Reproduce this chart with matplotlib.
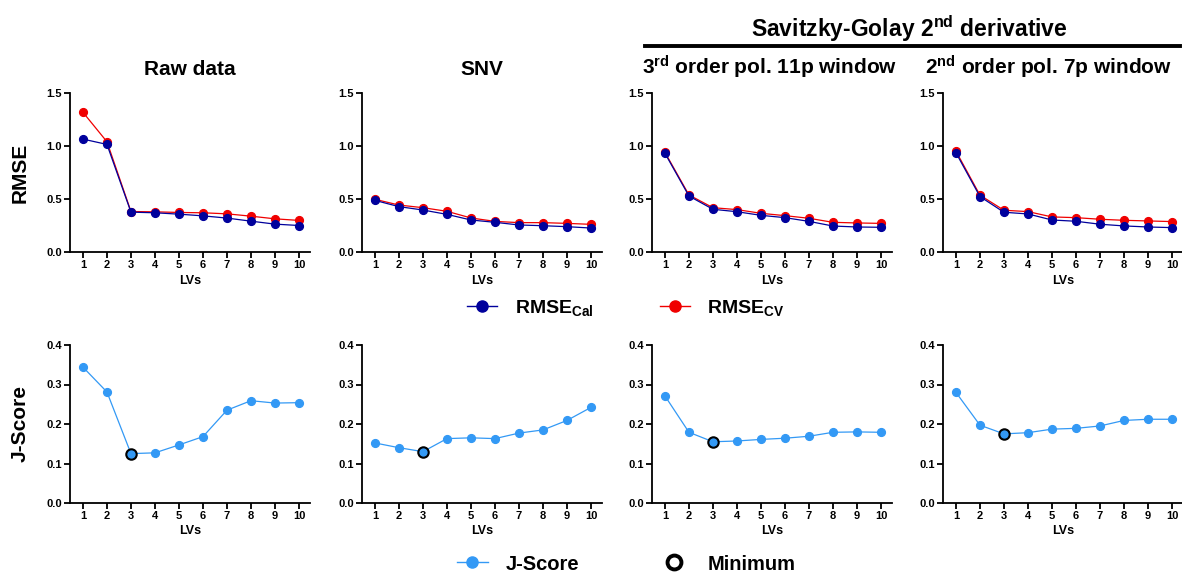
import matplotlib
matplotlib.use("Agg")
import matplotlib.pyplot as plt
from matplotlib.lines import Line2D

plt.rcParams['font.family'] = ['Liberation Sans', 'DejaVu Sans']
plt.rcParams['mathtext.fontset'] = 'custom'
plt.rcParams['mathtext.rm'] = 'Liberation Sans:bold'
plt.rcParams['mathtext.bf'] = 'Liberation Sans:bold'
plt.rcParams['mathtext.it'] = 'Liberation Sans:bold'

lvs = [1, 2, 3, 4, 5, 6, 7, 8, 9, 10]

titles = ["Raw data", "SNV",
          r"3$^{\mathbf{rd}}$ order pol. 11p window",
          r"2$^{\mathbf{nd}}$ order pol. 7p window"]

rmse_cal = [
    [1.065, 1.015, 0.376, 0.370, 0.357, 0.341, 0.320, 0.291, 0.263, 0.250],
    [0.487, 0.428, 0.396, 0.355, 0.302, 0.280, 0.255, 0.248, 0.239, 0.226],
    [0.931, 0.528, 0.403, 0.380, 0.346, 0.324, 0.289, 0.245, 0.236, 0.233],
    [0.936, 0.523, 0.375, 0.359, 0.302, 0.290, 0.262, 0.246, 0.236, 0.230],
]
rmse_cv = [
    [1.318, 1.040, 0.382, 0.379, 0.373, 0.370, 0.360, 0.338, 0.313, 0.298],
    [0.497, 0.443, 0.418, 0.384, 0.321, 0.289, 0.277, 0.277, 0.270, 0.261],
    [0.940, 0.538, 0.418, 0.400, 0.365, 0.343, 0.318, 0.280, 0.274, 0.270],
    [0.951, 0.536, 0.394, 0.381, 0.331, 0.324, 0.309, 0.299, 0.293, 0.287],
]
jscore = [
    [0.344, 0.281, 0.125, 0.127, 0.147, 0.168, 0.235, 0.259, 0.253, 0.254],
    [0.152, 0.140, 0.130, 0.163, 0.165, 0.163, 0.177, 0.185, 0.209, 0.242],
    [0.271, 0.179, 0.155, 0.157, 0.161, 0.164, 0.169, 0.179, 0.180, 0.179],
    [0.280, 0.197, 0.175, 0.178, 0.187, 0.189, 0.195, 0.209, 0.212, 0.212],
]
min_lv = [3, 3, 3, 3]

C_CAL = '#00009c'
C_CV = '#f00000'
C_J = '#3399f5'

W, H = 1182, 572
fig = plt.figure(figsize=(W / 100, H / 100), dpi=100)

lefts = [70, 362, 652, 943]
title_x = [0.5, 0.5, 0.49, 0.44]
axw = 240

def style(ax, ymax, yticks, labels):
    ax.set_xlim(0.46, 10.46)
    ax.set_ylim(0, ymax)
    ax.set_xticks(lvs)
    ax.set_xticklabels([str(v) for v in lvs], fontsize=8, fontweight='bold')
    ax.set_yticks(yticks)
    ax.set_yticklabels(labels, fontsize=8, fontweight='bold')
    for s in ['top', 'right']:
        ax.spines[s].set_visible(False)
    for s in ['left', 'bottom']:
        ax.spines[s].set_linewidth(1.3)
    ax.tick_params(width=1.3, length=4, pad=2)
    ax.set_xlabel('LVs', fontsize=9, fontweight='bold', labelpad=3)
    ax.patch.set_alpha(0)

for i in range(4):
    # top row
    ax = fig.add_axes([lefts[i] / W, 1 - 252 / H, axw / W, (252 - 93) / H])
    ax.plot(lvs, rmse_cv[i], color=C_CV, lw=0.9, marker='o', ms=5.6, zorder=2)
    ax.plot(lvs, rmse_cal[i], color=C_CAL, lw=0.9, marker='o', ms=5.6, zorder=3)
    style(ax, 1.5, [0, 0.5, 1.0, 1.5], ['0.0', '0.5', '1.0', '1.5'])
    ax.set_title(titles[i], fontsize=15, fontweight='bold', pad=13, x=title_x[i])
    if i == 0:
        ax.set_ylabel('RMSE', fontsize=15, fontweight='bold', labelpad=12)

    # bottom row
    ax2 = fig.add_axes([lefts[i] / W, 1 - 503 / H, axw / W, (503 - 345) / H])
    ax2.plot(lvs, jscore[i], color=C_J, lw=0.9, marker='o', ms=5.6, zorder=2)
    k = lvs.index(min_lv[i])
    ax2.plot([lvs[k]], [jscore[i][k]], ls='none', marker='o', ms=7.5,
             mfc=C_J, mec='black', mew=1.5, zorder=3)
    style(ax2, 0.4, [0, 0.1, 0.2, 0.3, 0.4], ['0.0', '0.1', '0.2', '0.3', '0.4'])
    if i == 0:
        ax2.set_ylabel('J-Score', fontsize=15, fontweight='bold', labelpad=12)

# Savitzky-Golay header
fig.text(909 / W, 1 - 37 / H, r"Savitzky-Golay 2$^{\mathbf{nd}}$ derivative",
         ha='center', va='baseline', fontsize=16.5, fontweight='bold')
fig.add_artist(Line2D([645 / W, 1180 / W], [1 - 46 / H, 1 - 46 / H],
                      color='black', lw=2.8, transform=fig.transFigure))

# RMSE legend
h1 = [Line2D([], [], color=C_CAL, lw=1, marker='o', ms=8),
      Line2D([], [], color=C_CV, lw=1, marker='o', ms=8)]
fig.legend(h1, [r"RMSE$_{\mathbf{Cal}}$", r"RMSE$_{\mathbf{CV}}$"],
           loc='center', bbox_to_anchor=(626 / W, 1 - 308 / H), ncol=2,
           frameon=False, prop={'size': 14, 'weight': 'bold'},
           handlelength=1.55, handletextpad=0.9, columnspacing=3.4,
           borderpad=0.2)

# J-Score legend
h2 = [Line2D([], [], color=C_J, lw=1, marker='o', ms=8),
      Line2D([], [], ls='none', marker='o', ms=10, mfc='none', mec='black', mew=2.8)]
fig.legend(h2, ["J-Score", "Minimum"],
           loc='center', bbox_to_anchor=(626 / W, 1 - 564 / H), ncol=2,
           frameon=False, prop={'size': 14.5, 'weight': 'bold'},
           handlelength=1.55, handletextpad=0.9, columnspacing=3.9,
           borderpad=0.2)

fig.savefig('out.png', dpi=100)
